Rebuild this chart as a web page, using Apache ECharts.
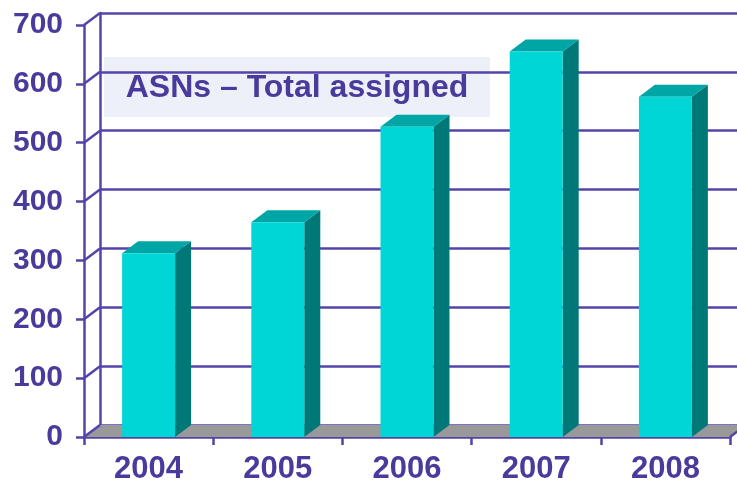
<!DOCTYPE html>
<html>
<head>
<meta charset="utf-8">
<script src="https://cdn.jsdelivr.net/npm/echarts@6/dist/echarts.min.js"></script>
<style>
html,body{margin:0;padding:0;background:#fff;}
#chart{width:737px;height:485px;}
</style>
</head>
<body>
<div id="chart"></div>
<script>
const categories = ['2004', '2005', '2006', '2007', '2008'];
const assigned = [312, 365, 527, 655, 578];
const yTicks = [0, 100, 200, 300, 400, 500, 600, 700];
const titleText = 'ASNs – Total assigned';

const PURPLE = '#483b9c';
const LINE = '#5443a8';
const DX = 16, DY = -12;

const chart = echarts.init(document.getElementById('chart'));

function barItem(params, api) {
  const idx = api.value(0);
  const v = api.value(1);
  const base = api.coord([idx, 0]);
  const top = api.coord([idx, v]);
  const bw = api.size([1, 0])[0] * 0.41;
  const xl = top[0] - bw / 2, xr = top[0] + bw / 2;
  return {
    type: 'group',
    children: [
      { type: 'polygon', shape: { points: [[xr, top[1]], [xr + DX, top[1] + DY], [xr + DX, base[1] + DY], [xr, base[1]]] }, style: { fill: '#007878' } },
      { type: 'polygon', shape: { points: [[xl, top[1]], [xl + DX, top[1] + DY], [xr + DX, top[1] + DY], [xr, top[1]]] }, style: { fill: '#00a6a6' } },
      { type: 'rect', shape: { x: xl, y: top[1], width: bw, height: base[1] - top[1] }, style: { fill: '#00d6d6' } }
    ]
  };
}

function connectorItem(params, api) {
  const cs = params.coordSys;
  const v = api.value(0);
  const p = api.coord([0, v]);
  const x0 = cs.x;
  const children = [
    { type: 'line', shape: { x1: x0, y1: p[1], x2: x0 + DX, y2: p[1] + DY }, style: { stroke: LINE, lineWidth: 2.5 } }
  ];
  if (v === 0) {
    const x1 = cs.x + cs.width;
    children.unshift({ type: 'polygon', shape: { points: [[x0, p[1]], [x0 + DX, p[1] + DY], [x1 + DX, p[1] + DY], [x1, p[1]]] }, style: { fill: '#999999' } });
    children.push({ type: 'line', shape: { x1: x1, y1: p[1], x2: x1 + DX, y2: p[1] + DY }, style: { stroke: LINE, lineWidth: 2.5 } });
  }
  return { type: 'group', children: children };
}

const labelFont = 'Liberation Sans, Arial, sans-serif';

const option = {
  animation: false,
  backgroundColor: '#ffffff',
  grid: [
    { left: 84, right: 7, top: 25, bottom: 48 },
    { left: 100, right: -9, top: 13, bottom: 60 }
  ],
  xAxis: [
    {
      type: 'category', data: categories, gridIndex: 0, boundaryGap: true,
      axisLine: { lineStyle: { color: LINE, width: 2.5 } },
      axisTick: { show: true, length: 8, lineStyle: { color: LINE, width: 2.5 } },
      axisLabel: { color: PURPLE, fontFamily: labelFont, fontWeight: 'bold', fontSize: 31, margin: 17 }
    },
    {
      type: 'category', data: categories, gridIndex: 1, show: false
    }
  ],
  yAxis: [
    {
      type: 'value', gridIndex: 0, min: 0, max: 700, interval: 100,
      axisLine: { show: true, lineStyle: { color: LINE, width: 2.5 } },
      axisTick: { show: true, length: 8, lineStyle: { color: LINE, width: 2.5 } },
      splitLine: { show: false },
      axisLabel: { color: PURPLE, fontFamily: labelFont, fontWeight: 'bold', fontSize: 30, margin: 21 }
    },
    {
      type: 'value', gridIndex: 1, min: 0, max: 700, interval: 100,
      axisLine: { show: true, lineStyle: { color: LINE, width: 2.5 } },
      axisTick: { show: false },
      axisLabel: { show: false },
      splitLine: { show: true, lineStyle: { color: LINE, width: 2.5 } }
    }
  ],
  graphic: [
    {
      type: 'group', left: 104, top: 57, z: 100,
      children: [
        { type: 'rect', shape: { x: 0, y: 0, width: 386, height: 60 }, style: { fill: '#edf0f9' } },
        { type: 'text', x: 193, y: 31, style: { text: titleText, fill: PURPLE, font: 'bold 32px "Liberation Sans", Arial, sans-serif', textAlign: 'center', textVerticalAlign: 'middle' } }
      ]
    }
  ],
  series: [
    {
      type: 'custom', xAxisIndex: 0, yAxisIndex: 0, z: 3,
      data: yTicks.map(v => [v]),
      encode: { y: 0 },
      renderItem: connectorItem
    },
    {
      type: 'custom', xAxisIndex: 0, yAxisIndex: 0, z: 5,
      data: assigned.map((v, i) => [i, v]),
      encode: { x: 0, y: 1 },
      renderItem: barItem
    }
  ]
};
chart.setOption(option);
</script>
</body>
</html>
